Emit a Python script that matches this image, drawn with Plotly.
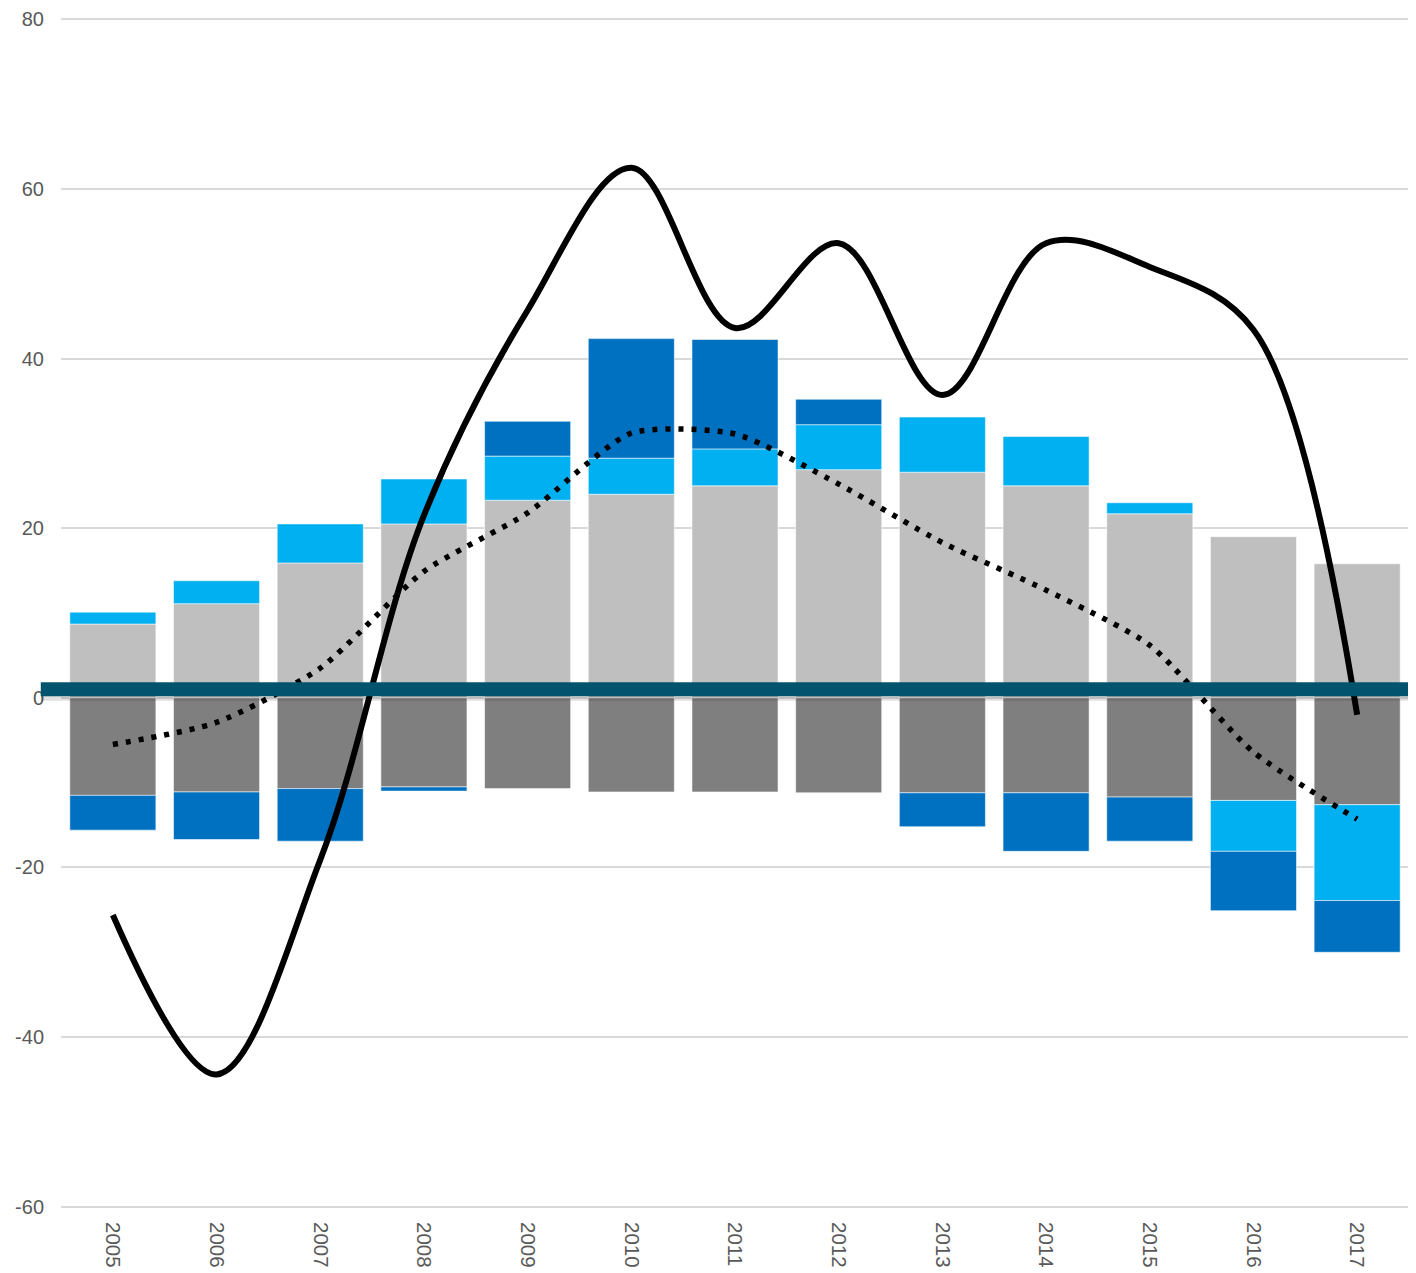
import plotly.graph_objs as go

# data
years = ['2005', '2006', '2007', '2008', '2009', '2010', '2011', '2012', '2013', '2014', '2015', '2016', '2017']
grey_pos = [8.7, 11.1, 15.9, 20.5, 23.3, 24.0, 25.0, 26.9, 26.6, 25.0, 21.7, 19.0, 15.8]
grey_neg = [-11.5, -11.1, -10.7, -10.5, -10.7, -11.1, -11.1, -11.2, -11.2, -11.2, -11.7, -12.1, -12.6]
light_blue = [1.4, 2.7, 4.6, 5.3, 5.2, 4.25, 4.35, 5.3, 6.5, 5.8, 1.3, -6.0, -11.3]
dark_blue = [-4.1, -5.6, -6.2, -0.5, 4.1, 14.1, 12.9, 3.0, -4.0, -6.9, -5.2, -7.0, -6.1]
solid_line = [-25.6, -44.4, -19.1, 21.5, 45.7, 62.5, 43.6, 53.6, 35.7, 53.6, 50.8, 43.4, -2.0]
dotted_line = [-5.5, -2.9, 3.5, 14.9, 21.8, 31.2, 31.1, 25.2, 18.3, 12.7, 6.2, -6.4, -14.3]
y_ticks = [-60, -40, -20, 0, 20, 40, 60, 80]
y_tick_text = ['-60', '-40', '-20', '0', '20', '40', '60', '80']

# small padding so the -60 and 80 gridlines are still drawn
y_min, y_max = -60.15, 80.15
base_line = 1.0  # thick axis bar sits just above zero

edge = dict(width=1, color='rgba(255,255,255,0.55)')

fig = go.Figure()
fig.add_trace(go.Bar(x=years, y=grey_pos, marker=dict(color='#bfbfbf', line=edge), name='grey +'))
fig.add_trace(go.Bar(x=years, y=grey_neg, marker=dict(color='#7f7f7f', line=edge), name='grey -'))
fig.add_trace(go.Bar(x=years, y=light_blue, marker=dict(color='#00b0f0', line=edge), name='light blue'))
fig.add_trace(go.Bar(x=years, y=dark_blue, marker=dict(color='#0070c0', line=edge), name='dark blue'))

fig.add_trace(go.Scatter(
	x=years, y=dotted_line, mode='lines',
	line=dict(color='black', width=5.5, dash='5px,8px', shape='spline', smoothing=0.65),
	name='dotted'))
fig.add_trace(go.Scatter(
	x=years, y=solid_line, mode='lines',
	line=dict(color='black', width=6, shape='spline', smoothing=1.0),
	name='solid'))

# thick teal bar across the chart near zero, with a soft shadow
frac = (base_line - y_min) / (y_max - y_min)
shadow_frac = (base_line - 1.0 - y_min) / (y_max - y_min)
fig.add_shape(type='line', xref='paper', yref='paper', x0=-0.015, x1=1.01,
	y0=shadow_frac, y1=shadow_frac, line=dict(color='rgba(0,0,0,0.12)', width=6), layer='above')
fig.add_shape(type='line', xref='paper', yref='paper', x0=-0.015, x1=1.01,
	y0=frac, y1=frac, line=dict(color='#02546e', width=14), layer='above')

# page body adds an 8px offset, so margins are trimmed to compensate
fig.update_layout(
	width=1416, height=1273,
	margin=dict(l=53, r=15, t=10, b=73),
	barmode='relative', bargap=0.17,
	plot_bgcolor='white', paper_bgcolor='white',
	showlegend=False,
	font=dict(family='Liberation Sans, Arial, sans-serif', size=20, color='#595959'))

fig.update_xaxes(tickangle=90, showgrid=False, showline=False, ticks='',
	range=[-0.5, 12.5], ticklabelstandoff=13, automargin=False, tickfont=dict(size=20.5))
fig.update_yaxes(range=[y_min, y_max], tickvals=y_ticks, ticktext=y_tick_text,
	showgrid=True, gridcolor='#d9d9d9', gridwidth=2, zeroline=False, showline=False,
	ticks='', ticklabelstandoff=16, automargin=False)

fig.write_html("out.html")
